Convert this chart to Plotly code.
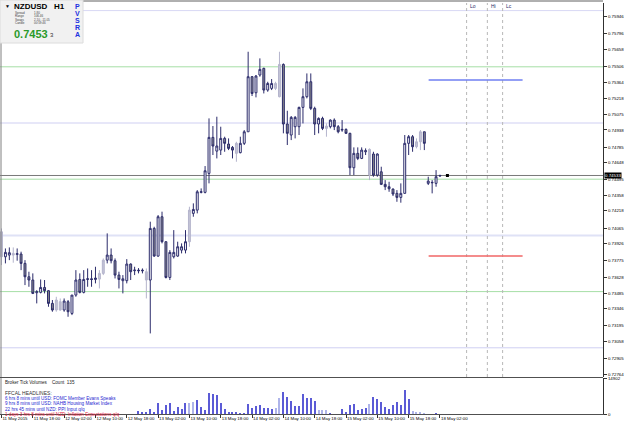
import plotly.graph_objects as go

# ---------------- data ----------------
opens = [0.74032,0.73810,0.73825,0.73840,0.73831,0.73834,0.73751,0.73632,0.73603,0.73490,
         0.73493,0.73537,0.73508,0.73395,0.73336,0.73410,0.73336,0.73410,0.73306,0.73469,
         0.73608,0.73493,0.73608,0.73614,0.73608,0.73611,0.73662,0.73780,0.73825,0.73775,
         0.73647,0.73597,0.73597,0.73745,0.73686,0.73691,0.73691,0.73677,0.73603,0.74062,
         0.73816,0.74166,0.73944,0.73626,0.73810,0.73816,0.73869,0.73869,0.73944,0.74196,
         0.74225,0.74383,0.74383,0.74552,0.74872,0.74750,0.74759,0.74863,0.74813,0.74783,
         0.74730,0.74736,0.74819,0.74922,0.75412,0.75269,0.75427,0.75486,0.75293,0.75308,
         0.75308,0.75234,0.75521,0.74991,0.74893,0.74967,0.74967,0.75139,0.75234,0.75367,
         0.75130,0.74991,0.75041,0.74973,0.74967,0.75026,0.74967,0.74937,0.74943,0.74908,
         0.74602,0.74730,0.74685,0.74744,0.74765,0.74724,0.74537,0.74566,0.74454,0.74433,
         0.74412,0.74374,0.74338,0.74374,0.74819,0.74878,0.74789,0.74833,0.74922,0.74463,
         0.74472,0.74463,0.74528]
highs = [0.74062,0.73884,0.73893,0.73893,0.73884,0.73855,0.73780,0.73677,0.73662,0.73513,
         0.73608,0.73603,0.73513,0.73425,0.73454,0.73439,0.73439,0.73425,0.73469,0.73691,
         0.73662,0.73691,0.73706,0.73691,0.73721,0.73691,0.73795,0.74018,0.73884,0.73795,
         0.73677,0.73647,0.73789,0.73751,0.73721,0.73709,0.73706,0.73706,0.74122,0.74077,
         0.74181,0.74211,0.73944,0.73869,0.74047,0.73944,0.73929,0.74047,0.74255,0.74285,
         0.74403,0.74418,0.74617,0.75041,0.74973,0.75056,0.74967,0.74878,0.74863,0.74795,
         0.74833,0.74878,0.74937,0.75634,0.75418,0.75427,0.75575,0.75492,0.75367,0.75391,
         0.75367,0.75634,0.75530,0.75109,0.75062,0.75062,0.75145,0.75308,0.75441,0.75441,
         0.75145,0.75050,0.75056,0.74997,0.75032,0.75041,0.74982,0.75026,0.74952,0.74913,
         0.74783,0.74783,0.74783,0.74774,0.74774,0.74744,0.74730,0.74611,0.74492,0.74477,
         0.74418,0.74403,0.74463,0.74893,0.74893,0.74893,0.74863,0.74937,0.74922,0.74522,
         0.74492,0.74581,0.74540]
lows = [0.73736,0.73751,0.73780,0.73757,0.73775,0.73691,0.73558,0.73543,0.73478,0.73395,
        0.73484,0.73484,0.73365,0.73321,0.73321,0.73330,0.73321,0.73276,0.73291,0.73454,
        0.73484,0.73484,0.73543,0.73543,0.73573,0.73528,0.73647,0.73751,0.73751,0.73617,
        0.73528,0.73484,0.73573,0.73603,0.73647,0.73662,0.73662,0.73439,0.73128,0.73810,
        0.73810,0.73929,0.73617,0.73603,0.73795,0.73810,0.73840,0.73840,0.73899,0.74166,
        0.74196,0.74374,0.74374,0.74463,0.74715,0.74685,0.74715,0.74744,0.74759,0.74685,
        0.74655,0.74730,0.74804,0.74922,0.75240,0.75228,0.75412,0.75263,0.75278,0.75293,
        0.75293,0.75228,0.74908,0.74804,0.74848,0.74863,0.74893,0.74996,0.75219,0.75115,
        0.74893,0.74908,0.74937,0.74878,0.74952,0.74937,0.74908,0.74922,0.74902,0.74537,
        0.74537,0.74670,0.74679,0.74715,0.74492,0.74522,0.74522,0.74448,0.74403,0.74388,
        0.74350,0.74299,0.74291,0.74374,0.74715,0.74744,0.74774,0.74759,0.74759,0.74448,
        0.74374,0.74433,0.74522]
closes = [0.73810,0.73849,0.73846,0.73825,0.73837,0.73751,0.73632,0.73603,0.73484,0.73499,
          0.73537,0.73508,0.73395,0.73336,0.73425,0.73336,0.73416,0.73321,0.73469,0.73603,
          0.73493,0.73608,0.73614,0.73608,0.73620,0.73662,0.73780,0.73825,0.73775,0.73647,
          0.73608,0.73614,0.73745,0.73677,0.73691,0.73686,0.73686,0.73603,0.74062,0.73816,
          0.74166,0.73944,0.73626,0.73849,0.73849,0.73899,0.73899,0.73944,0.74225,0.74231,
          0.74388,0.74388,0.74575,0.74872,0.74795,0.74795,0.74863,0.74819,0.74774,0.74759,
          0.74819,0.74819,0.74922,0.75412,0.75263,0.75418,0.75477,0.75293,0.75352,0.75352,
          0.75352,0.75521,0.74991,0.74908,0.75050,0.75050,0.75139,0.75234,0.75367,0.75130,
          0.74991,0.75041,0.74952,0.74952,0.75026,0.74967,0.74922,0.74943,0.74908,0.74602,
          0.74730,0.74685,0.74759,0.74753,0.74537,0.74537,0.74724,0.74454,0.74433,0.74415,
          0.74368,0.74338,0.74374,0.74819,0.74878,0.74789,0.74833,0.74922,0.74819,0.74483,
          0.74469,0.74522,0.74533]
faded_bars = [0, 3, 14, 15, 25, 26, 37, 48, 60, 70, 71, 83, 94, 106, 107]

vol_start = 35
volumes = [1242, 966, 966, 1932, 966, 4416, 1656, 3726, 4416, 1380,
           3036, 1932, 4416, 4692, 5106, 5796, 3036, 1500, 8832, 8280,
           7866, 4416, 1932, 966, 690, 690, 276, 200, 4140, 2346,
           3450, 3726, 2346, 2622, 2208, 2346, 6762, 9108, 7176, 5382,
           3312, 3312, 8556, 6900, 6762, 5382, 1656, 1656, 1656, 276,
           0, 0, 1932, 552, 3864, 4140, 1656, 1932, 2346, 4140,
           7176, 6486, 4830, 2760, 2070, 3588, 5106, 3726, 9936, 6210,
           1380, 966, 552, 138, 0, 0, 138]
light_vol_bars = [48, 49, 70, 71, 81, 82, 83, 94, 105, 106, 107, 108]
vol_max_label = 14902

tick_bars = [0, 8, 16, 24, 32, 40, 48, 56, 64, 72, 80, 88, 96, 104, 112]
tick_labels = ["11 May 2015", "11 May 18:00", "12 May 02:00", "12 May 10:00", "12 May 18:00",
               "13 May 02:00", "13 May 10:00", "13 May 18:00", "14 May 02:00", "14 May 10:00",
               "14 May 18:00", "15 May 02:00", "15 May 10:00", "15 May 18:00", "18 May 02:00"]
price_ticks = ["0.75946", "0.75796", "0.75658", "0.75506", "0.75364", "0.75218", "0.75075",
               "0.74938", "0.74785", "0.74648", "0.74495", "0.74358", "0.74218", "0.74065",
               "0.73926", "0.73775", "0.73628", "0.73485", "0.73346", "0.73195", "0.73058",
               "0.72905", "0.72764"]
current_price = 0.74533
round_levels = [0.7600, 0.7550, 0.7500, 0.7450, 0.7400, 0.7350, 0.7300]
level_colors = ["#d8d8f4", "#a6dea6", "#cfcff2", "#a6dea6", "#dfe2f6", "#a6dea6", "#cfcff2"]
session_lines = [118.8, 124.1, 128.0]
session_names = ["Lo", "Hi", "Lc"]
upper_target = 0.75383
lower_target = 0.73817
target_span = [109.1, 133.1]
marker_bar = 113.9

headlines = ["6 hrs 8 mins until USD: FOMC Member Evans Speaks",
             "9 hrs 8 mins until USD: NAHB Housing Market Index",
             "22 hrs 45 mins until NZD: PPI Input q/q",
             "1 days 3 hrs 8 mins until NZD: Inflation Expectations q/q"]
headline_colors = ["#1f1fd0", "#1f1fd0", "#1f1fd0", "#e0203c"]

# ---------------- geometry helpers (layout only) ----------------
W, H = 625, 429
ML, MR, MT, MB = 0, 22, 3, 15
PW, PH = W - ML - MR, H - MT - MB


def px(x):
    return (x - ML) / PW


def py(y):
    return (H - MB - y) / PH


FONT = "Liberation Sans, Arial, sans-serif"
NAVY = "#2b2b6b"

fig = go.Figure()

normal = [i for i in range(len(opens)) if i not in faded_bars]
faded = [i for i in range(len(opens)) if i in faded_bars]


def sub(lst, idx):
    return [lst[i] for i in idx]


fig.add_trace(go.Candlestick(
    x=faded, open=sub(opens, faded), high=sub(highs, faded), low=sub(lows, faded),
    close=sub(closes, faded),
    increasing=dict(line=dict(color="#b4b4cc", width=1), fillcolor="#c4c4d6"),
    decreasing=dict(line=dict(color="#b4b4cc", width=1), fillcolor="#b8b8cc"),
    whiskerwidth=0, showlegend=False, hoverinfo="skip", xaxis="x", yaxis="y"))
fig.add_trace(go.Candlestick(
    x=normal, open=sub(opens, normal), high=sub(highs, normal), low=sub(lows, normal),
    close=sub(closes, normal),
    increasing=dict(line=dict(color=NAVY, width=1), fillcolor="#ffffff"),
    decreasing=dict(line=dict(color=NAVY, width=1), fillcolor="#8a8a8a"),
    whiskerwidth=0, showlegend=False, hoverinfo="skip", xaxis="x", yaxis="y"))

vx = [vol_start + i for i in range(len(volumes))]
vcol = ["#aeb4ea" if b in light_vol_bars else "#5b5bd6" for b in vx]
fig.add_trace(go.Bar(x=vx, y=volumes, marker=dict(color=vcol, line=dict(width=0)),
                     width=0.28, showlegend=False, hoverinfo="skip", xaxis="x", yaxis="y2"))

fig.add_trace(go.Scatter(x=[marker_bar], y=[current_price], mode="markers",
                         marker=dict(symbol="square", size=3, color="black"),
                         showlegend=False, hoverinfo="skip", xaxis="x", yaxis="y"))

shapes = []
for lv, c in zip(round_levels, level_colors):
    shapes.append(dict(type="line", xref="paper", yref="y", x0=0, x1=1, y0=lv, y1=lv,
                       line=dict(color=c, width=2 if lv == 0.74 else 1), layer="below"))
shapes.append(dict(type="line", xref="paper", yref="y", x0=0, x1=1, y0=current_price,
                   y1=current_price, line=dict(color="#7a7a7a", width=1), layer="below"))
for sx in session_lines:
    shapes.append(dict(type="line", xref="x", yref="paper", x0=sx, x1=sx, y0=py(377), y1=py(3),
                       line=dict(color="#b8b8b8", width=1, dash="dot"), layer="below"))
shapes.append(dict(type="line", xref="x", yref="y", x0=target_span[0], x1=target_span[1],
                   y0=upper_target, y1=upper_target, line=dict(color="#6f7ff2", width=1.5)))
shapes.append(dict(type="line", xref="x", yref="y", x0=target_span[0], x1=target_span[1],
                   y0=lower_target, y1=lower_target, line=dict(color="#f06666", width=1.5)))
# frames
shapes.append(dict(type="line", xref="paper", yref="paper", x0=0, x1=1, y0=py(1), y1=py(1),
                   line=dict(color="#606060", width=1)))
shapes.append(dict(type="line", xref="paper", yref="paper", x0=px(1), x1=px(1), y0=0, y1=py(1),
                   line=dict(color="#808080", width=1)))
shapes.append(dict(type="line", xref="paper", yref="paper", x0=0, x1=1, y0=py(377.5), y1=py(377.5),
                   line=dict(color="#505050", width=1)))
# info box
shapes.append(dict(type="rect", xref="paper", yref="paper", x0=px(0), x1=px(83), y0=py(43), y1=py(0),
                   fillcolor="#f1f1f1", line=dict(color="#dcdcdc", width=1)))

ann = []


def text(x, y, s, size, color="black", bold=False, anchor="left", bg=None, family=FONT):
    d = dict(xref="paper", yref="paper", x=px(x), y=py(y), text=("<b>%s</b>" % s) if bold else s,
             showarrow=False, xanchor=anchor, yanchor="middle",
             font=dict(size=size, color=color, family=family))
    if bg:
        d.update(bgcolor=bg, borderpad=0)
    ann.append(d)


text(3, 6, "▼", 5)
text(12, 6.5, "NZDUSD&nbsp;&nbsp;&nbsp;H1", 8, bold=True)
info_rows = [("Spread", "1.80"), ("Range", "106.46"), ("Swaps", "2.10, -11.05"), ("Candle", "00:59:46")]
for k, (a, b) in enumerate(info_rows):
    text(13, 13 + 3.4 * k, a, 3, color="#444")
    text(32, 13 + 3.4 * k, b, 3, color="#444")
text(12, 34, "0.7453", 11, color="#2a9a2a", bold=True)
text(48, 35, "3", 6, color="#333")
for k, ch in enumerate("PVSRA"):
    text(77.5, 7 + 6.8 * k, ch, 7, color="#2030e0", bold=True, anchor="center")
for sx, nm in zip(session_lines, session_names):
    ann.append(dict(xref="x", yref="paper", x=sx + 0.4, y=py(6), text=nm, showarrow=False,
                    xanchor="left", yanchor="middle", font=dict(size=5, color=NAVY, family=FONT)))

text(3, 382.5, "Broker Tick Volumes&nbsp;&nbsp;&nbsp;&nbsp;Count&nbsp;&nbsp;135", 4.6, color="#222")
text(3, 393, "FFCAL HEADLINES:", 5, color="#333")
for k, (h, c) in enumerate(zip(headlines, headline_colors)):
    text(3, 398.8 + 5.1 * k, h, 4.6, color=c)

ann.append(dict(xref="paper", yref="y", x=1.0, y=current_price, text="0.74533", showarrow=False,
                xanchor="left", yanchor="middle", xshift=1, bgcolor="black", borderpad=0,
                font=dict(size=4.4, color="white", family=FONT)))

x0 = -1.5 / 3.915
fig.update_layout(
    width=W, height=H, margin=dict(l=ML, r=MR, t=MT, b=MB, autoexpand=False),
    paper_bgcolor="white", plot_bgcolor="white", showlegend=False,
    shapes=shapes, annotations=ann, bargap=0,
    xaxis=dict(range=[x0, x0 + PW / 3.915], anchor="y2", tickmode="array", tickvals=tick_bars,
               ticktext=tick_labels, ticks="outside", ticklen=3, tickcolor="#333",
               tickangle=0, automargin=False,
               ticklabelposition="outside right", tickfont=dict(size=4.4, color="black", family=FONT),
               showgrid=False, zeroline=False, showline=True, linecolor="#505050", linewidth=1,
               rangeslider=dict(visible=False), fixedrange=True),
    yaxis=dict(domain=[py(377), 1], range=[0.75 - (377 - 123) * 0.005 / 56.2,
                                          0.75 + (123 - 3) * 0.005 / 56.2],
               side="right", anchor="x", tickmode="array", automargin=False,
               tickvals=[float(t) for t in price_ticks], ticktext=price_ticks,
               ticks="outside", ticklen=3, tickcolor="#333",
               tickfont=dict(size=4.4, color="black", family=FONT),
               showgrid=False, zeroline=False, showline=True, linecolor="#303030", linewidth=1),
    yaxis2=dict(domain=[0, py(378)], range=[0, 15100], side="right", anchor="x",
                tickmode="array", tickvals=[0, vol_max_label], ticktext=["0", str(vol_max_label)],
                automargin=False,
                ticks="outside", ticklen=3, tickcolor="#333",
                tickfont=dict(size=4.4, color="black", family=FONT),
                showgrid=False, zeroline=False, showline=True, linecolor="#303030", linewidth=1),
)

fig.write_html("out.html")
